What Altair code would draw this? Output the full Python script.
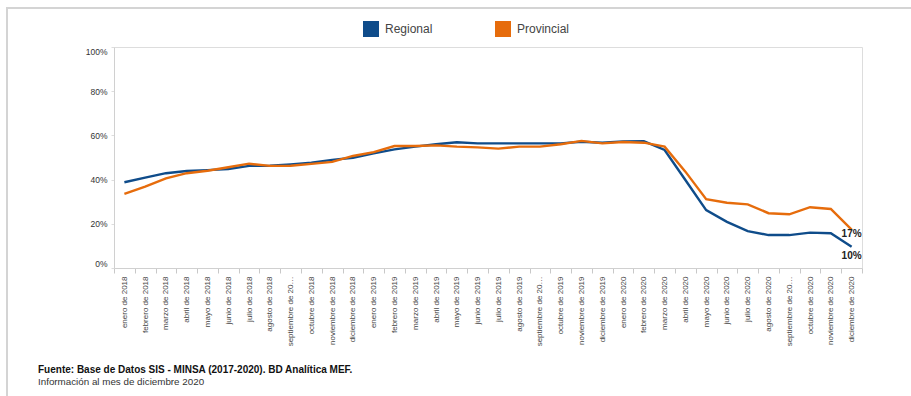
import altair as alt
import pandas as pd

meses = ["enero", "febrero", "marzo", "abril", "mayo", "junio", "julio",
         "agosto", "septiembre", "octubre", "noviembre", "diciembre"]
anios = [2018, 2019, 2020]
periodos = [f"{m} de {a}" for a in anios for m in meses]

regional = [38.8, 40.9, 42.9, 43.9, 44.3, 44.8, 46.2, 46.3, 46.9, 47.6, 48.9, 49.9,
            51.9, 53.7, 54.9, 56.0, 56.9, 56.4, 56.4, 56.4, 56.4, 56.4, 57.1, 56.7,
            57.3, 57.4, 53.4, 39.8, 26.2, 20.9, 16.7, 14.9, 14.9, 16.0, 15.7, 9.6]
provincial = [33.5, 36.8, 40.6, 42.9, 44.0, 45.6, 47.2, 46.2, 46.3, 47.1, 48.0, 50.7,
              52.4, 55.2, 55.2, 55.5, 54.9, 54.6, 54.0, 54.9, 54.9, 56.0, 57.5, 56.4,
              57.0, 56.7, 54.9, 43.6, 31.1, 29.5, 28.8, 24.8, 24.3, 27.5, 26.7, 17.4]

series = ["Regional", "Provincial"]
colores = ["#0f4c8a", "#e66c0c"]
y_ticks = [0, 20, 40, 60, 80, 100]

fuente = "Fuente: Base de Datos SIS - MINSA (2017-2020). BD Analítica MEF."
nota = "Información al mes de diciembre 2020"

rows = []
for i, p in enumerate(periodos):
    rows.append({"periodo": p, "orden": i, "serie": "Regional", "valor": regional[i]})
    rows.append({"periodo": p, "orden": i, "serie": "Provincial", "valor": provincial[i]})
df = pd.DataFrame(rows)
df["etiqueta"] = df["valor"].round().astype(int).astype(str) + "%"
ultimo = len(periodos) - 1

FONT = "Liberation Sans"

x_enc = alt.X(
    "periodo:N", sort=periodos,
    scale=alt.Scale(type="band", paddingInner=0, paddingOuter=0),
    axis=alt.Axis(title=None, labelAngle=270, tickBand="extent", tickSize=5,
                  tickColor="#c8c8c8", domainColor="#d0d0d0", labelFontSize=8,
                  labelColor="#444444", labelLimit=70, labelPadding=3, labelFont=FONT),
)
y_enc = alt.Y(
    "valor:Q", scale=alt.Scale(domain=[0, 100]),
    axis=alt.Axis(title=None, values=y_ticks, labelExpr="datum.value + '%'", grid=False,
                  labelFlush=True, tickSize=3, tickColor="#dddddd", domainColor="#d0d0d0",
                  labelPadding=4, labelFontSize=8.5, labelColor="#333333", labelFont=FONT),
)

base = alt.Chart(df)

lines = base.mark_line(strokeWidth=2.4).encode(
    x=x_enc, y=y_enc,
    color=alt.Color(
        "serie:N", scale=alt.Scale(domain=series, range=colores),
        legend=alt.Legend(title=None, orient="none", direction="horizontal",
                          legendX=249, legendY=-26, symbolType="square", symbolSize=64,
                          symbolStrokeWidth=8, labelFontSize=12,
                          labelFont=FONT, labelColor="#444444", labelOffset=6,
                          columnPadding=50, padding=0),
    ),
)

text_prov = base.transform_filter(
    f"datum.orden == {ultimo} && datum.serie == 'Provincial'"
).mark_text(fontWeight="bold", fontSize=10, dy=4, color="#222222", font=FONT).encode(
    x=x_enc, y=y_enc, text="etiqueta:N"
)
text_reg = base.transform_filter(
    f"datum.orden == {ultimo} && datum.serie == 'Regional'"
).mark_text(fontWeight="bold", fontSize=10, dy=9, color="#222222", font=FONT).encode(
    x=x_enc, y=y_enc, text="etiqueta:N"
)

frame_df = pd.DataFrame({"k": [0]})
top_rule = alt.Chart(frame_df).mark_rule(color="#d4d4d4", strokeWidth=2).encode(
    x=alt.value(-107), x2=alt.value(800), y=alt.value(-39)
)
left_rule = alt.Chart(frame_df).mark_rule(color="#d4d4d4", strokeWidth=2).encode(
    x=alt.value(-107), y=alt.value(-40), y2=alt.value(360)
)
fuente_txt = alt.Chart(frame_df).mark_text(
    align="left", baseline="middle", font=FONT, fontSize=10, fontWeight="bold",
    color="#111111"
).encode(x=alt.value(-76), y=alt.value(323), text=alt.value(fuente))
nota_txt = alt.Chart(frame_df).mark_text(
    align="left", baseline="middle", font=FONT, fontSize=9.8, color="#333333"
).encode(x=alt.value(-76), y=alt.value(335), text=alt.value(nota))

chart = alt.layer(
    top_rule, left_rule, lines, text_prov, text_reg, fuente_txt, nota_txt
).properties(
    width=748, height=221,
    autosize=alt.AutoSizeParams(type="none"),
    padding={"left": 114, "top": 47, "right": 49, "bottom": 128},
).configure_view(stroke="#d8d8d8").configure(font=FONT, background="white")

chart.save("out.html", embed_options={"renderer": "svg", "actions": False})
